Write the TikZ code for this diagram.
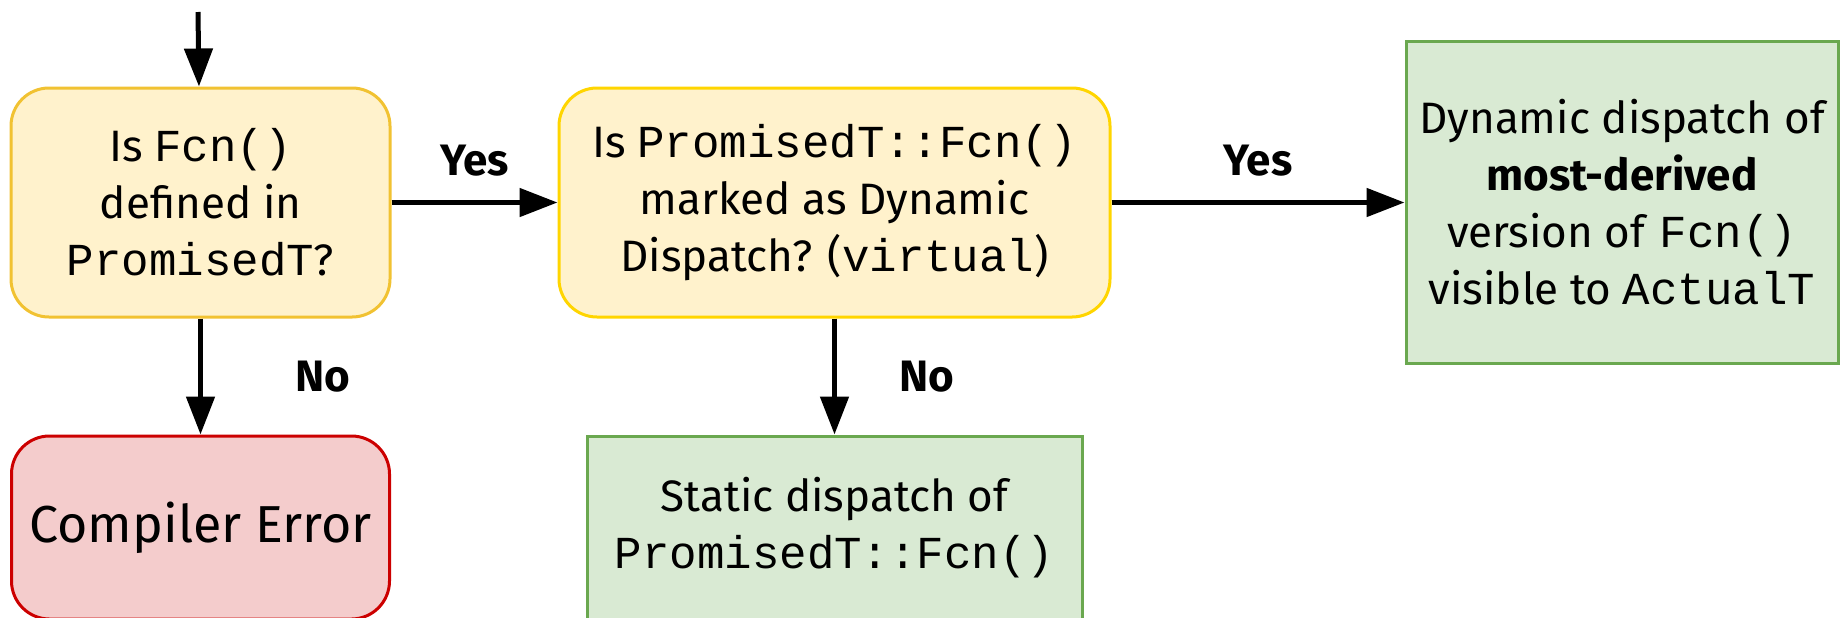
\documentclass[tikz,border=0pt]{standalone}
\usepackage{fontspec}
\setmainfont{Fira Sans}
\setmonofont{Liberation Mono}[Scale=1.04]
\usetikzlibrary{positioning, arrows.meta, shapes}
\definecolor{qfill}{HTML}{FFF2CC}
\definecolor{qline}{HTML}{F1C232}
\definecolor{qline2}{HTML}{FFD500}
\definecolor{okfill}{HTML}{D9EAD3}
\definecolor{okline}{HTML}{6AA84F}
\definecolor{errfill}{HTML}{F4CCCC}
\definecolor{errline}{HTML}{CC0000}
\tikzset{dbox/.style={draw, line width=1.5pt, align=center, inner sep=0pt, font=\fontsize{22}{28.5}\selectfont}}
\tikzset{dq/.style={dbox, rounded corners=19pt, fill=qfill, draw=qline}}
\tikzset{dok/.style={dbox, fill=okfill, draw=okline}}
\tikzset{derr/.style={dbox, rounded corners=19pt, fill=errfill, draw=errline, font=\fontsize{26}{31}\selectfont}}
\tikzset{arr/.style={draw, -{Triangle[length=19pt, width=14pt]}, line width=2.5pt}}
\tikzset{lbl/.style={inner sep=0pt, font=\bfseries\fontsize{22}{28.5}\selectfont}}
\begin{document}
\begin{tikzpicture}[x=0.5pt, y=-0.5pt]
			\useasboundingbox (0,0) rectangle (1841,617);
			\coordinate (In) at (198,12);
			\node[dq, minimum width=189.5pt, minimum height=114.5pt] (Q1) at (200.5,202.5) {Is \texttt{Fcn()}\\defined in\\\texttt{PromisedT}?};
			\node[dq, draw=qline2, right=83pt of Q1, minimum width=275.5pt, minimum height=114.5pt] (Q2) {Is \texttt{PromisedT::Fcn()}\\marked as Dynamic\\Dispatch? (\texttt{virtual})};
			\node[dok, right=146.5pt of Q2, minimum width=216pt, minimum height=161pt] (Dyn) {Dynamic dispatch of\\\textbf{most-derived}\\version of \texttt{Fcn()}\\visible to \texttt{ActualT}};
			\node[derr, below=58pt of Q1, minimum width=189pt, minimum height=91.5pt] (Err) {Compiler Error};
			\node[dok, below=58pt of Q2, minimum width=247.5pt, minimum height=91.5pt] (Stat) {Static dispatch of\\\texttt{PromisedT::Fcn()}};
			\draw[arr] (In) -- (Q1);
			\draw[arr] (Q1) -- node[lbl, above=12pt]{Yes} (Q2);
			\draw[arr] (Q2) -- node[lbl, above=12pt]{Yes} (Dyn);
			\draw[arr] (Q1) -- node[lbl, right=46pt]{No} (Err);
			\draw[arr] (Q2) -- node[lbl, right=31pt]{No} (Stat);
		\end{tikzpicture}
\end{document}
